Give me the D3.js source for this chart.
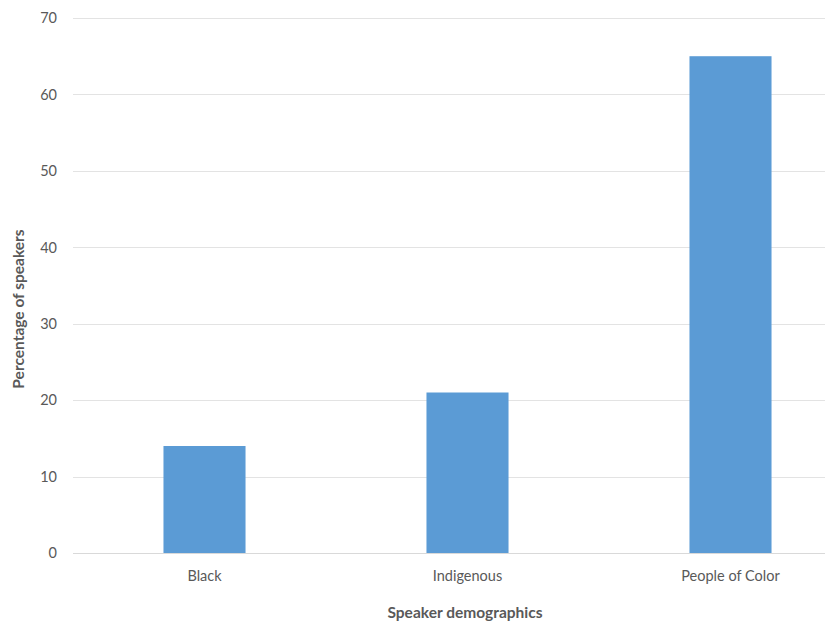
<!DOCTYPE html>
<html>
<head>
<meta charset="utf-8">
<script src="https://cdn.jsdelivr.net/npm/d3@7"></script>
<style>
  html, body { margin: 0; padding: 0; background: #fff; }
  svg { display: block; font-family: Lato, "Open Sans", sans-serif; }
</style>
</head>
<body>
<svg id="chart" width="825" height="623"></svg>
<script>
// Share of speakers by demographic group (percent)
const categories = ["Black", "Indigenous", "People of Color"];
const values = [14, 21, 65];
const yTicks = [0, 10, 20, 30, 40, 50, 60, 70];
const xTitle = "Speaker demographics";
const yTitle = "Percentage of speakers";

const svg = d3.select("#chart");
const plotLeft = 73, plotRight = 862, plotTop = 18, plotBottom = 553;

const x = d3.scaleBand()
  .domain(categories)
  .range([plotLeft, plotRight])
  .paddingInner(0.688)
  .paddingOuter(0.344);

const y = d3.scaleLinear()
  .domain([0, 70])
  .range([plotBottom, plotTop]);

// Horizontal gridlines
svg.append("g")
  .selectAll("line")
  .data(yTicks.filter(d => d > 0))
  .join("line")
  .attr("x1", plotLeft)
  .attr("x2", plotRight)
  .attr("y1", d => Math.round(y(d)) + 0.5)
  .attr("y2", d => Math.round(y(d)) + 0.5)
  .attr("stroke", "#e3e3e3")
  .attr("stroke-width", 1);

// Bars
svg.append("g")
  .selectAll("rect")
  .data(categories.map((c, i) => ({ c, v: values[i] })))
  .join("rect")
  .attr("x", d => x(d.c))
  .attr("width", x.bandwidth())
  .attr("y", d => y(d.v))
  .attr("height", d => y(0) - y(d.v))
  .attr("fill", "#5b9bd5");

// Baseline
svg.append("line")
  .attr("x1", plotLeft)
  .attr("x2", plotRight)
  .attr("y1", Math.round(y(0)) + 0.5)
  .attr("y2", Math.round(y(0)) + 0.5)
  .attr("stroke", "#d9d9d9")
  .attr("stroke-width", 1);

// Y axis tick labels
svg.append("g")
  .selectAll("text")
  .data(yTicks)
  .join("text")
  .attr("x", 57)
  .attr("y", d => y(d))
  .attr("dy", "0.36em")
  .attr("text-anchor", "end")
  .attr("font-size", 14.5)
  .attr("fill", "#595959")
  .text(d => d);

// X axis category labels
svg.append("g")
  .selectAll("text")
  .data(categories)
  .join("text")
  .attr("x", d => x(d) + x.bandwidth() / 2)
  .attr("y", 581)
  .attr("text-anchor", "middle")
  .attr("font-size", 14.5)
  .attr("fill", "#595959")
  .text(d => d);

// Axis titles
svg.append("text")
  .attr("x", 465)
  .attr("y", 618)
  .attr("text-anchor", "middle")
  .attr("font-size", 15.5)
  .attr("font-weight", "bold")
  .attr("fill", "#595959")
  .text(xTitle);

svg.append("text")
  .attr("transform", "translate(24, 309) rotate(-90)")
  .attr("text-anchor", "middle")
  .attr("font-size", 15.5)
  .attr("font-weight", "bold")
  .attr("fill", "#595959")
  .text(yTitle);
</script>
</body>
</html>
